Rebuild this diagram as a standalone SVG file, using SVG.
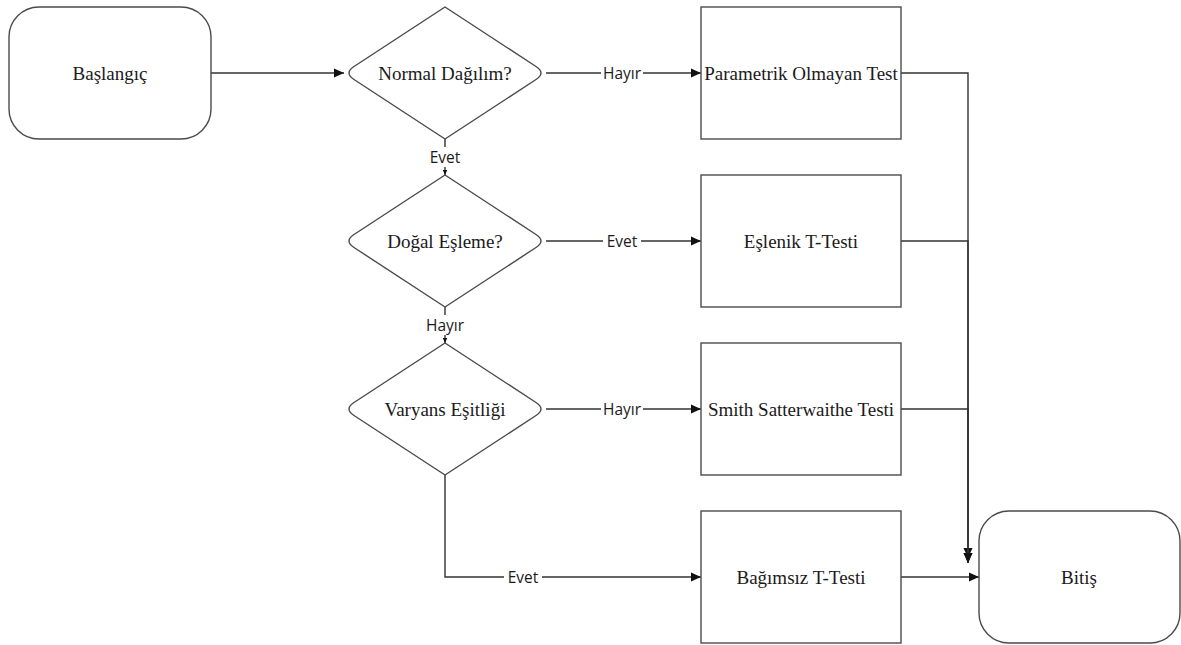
<svg xmlns="http://www.w3.org/2000/svg" width="1181" height="645" viewBox="0 0 1181 645">
<style>
.node{fill:#fff;stroke:#4a4a4a;stroke-width:1.4}
.nt{font-family:"Liberation Serif","Times New Roman",serif;font-size:19px;fill:#1a1a1a;text-anchor:middle}
.ln{fill:none;stroke:#333;stroke-width:1.4}
.lb{font-family:"Open Sans","Noto Sans",sans-serif;font-size:15.5px;fill:#1a1a1a;text-anchor:middle}
.lbg{fill:#fff;stroke:none}
</style>
<defs>
<marker id="ah" viewBox="0 0 10 10" refX="10" refY="5" markerWidth="10" markerHeight="10" markerUnits="userSpaceOnUse" orient="auto">
<path d="M0,0.5 L10,5 L0,9.5 Z" fill="#111"/>
</marker>
<marker id="as" viewBox="0 0 10 10" refX="10" refY="5" markerWidth="5" markerHeight="5" markerUnits="userSpaceOnUse" orient="auto">
<path d="M0,0.5 L10,5 L0,9.5 Z" fill="#111"/>
</marker>
</defs>
<rect width="1181" height="645" fill="#fff"/>
<g id="connectors">
<path class="ln" d="M211,73 L344,73" marker-end="url(#ah)"/>
<path class="ln" d="M546,73 L701,73" marker-end="url(#ah)"/>
<path class="ln" d="M445,139 L445,175" marker-end="url(#as)"/>
<path class="ln" d="M546,241 L701,241" marker-end="url(#ah)"/>
<path class="ln" d="M445,307 L445,343" marker-end="url(#as)"/>
<path class="ln" d="M546,409 L701,409" marker-end="url(#ah)"/>
<path class="ln" d="M445,475 L445,577 L701,577" marker-end="url(#ah)"/>
<path class="ln" d="M901,73 L968,73 L968,558" marker-end="url(#ah)"/>
<path class="ln" d="M901,241 L968,241 L968,563" marker-end="url(#ah)"/>
<path class="ln" d="M901,409 L968,409 L968,563" marker-end="url(#ah)"/>
<path class="ln" d="M901,577 L979,577" marker-end="url(#ah)"/>
<rect class="lbg" x="601" y="63" width="42" height="20"/>
<text class="lb" x="622" y="78.5">Hayır</text>
<rect class="lbg" x="427" y="147" width="36" height="20"/>
<text class="lb" x="445" y="162.5">Evet</text>
<rect class="lbg" x="603" y="231" width="38" height="20"/>
<text class="lb" x="622" y="246.5">Evet</text>
<rect class="lbg" x="424" y="315" width="42" height="20"/>
<text class="lb" x="445" y="330.5">Hayır</text>
<rect class="lbg" x="601" y="399" width="42" height="20"/>
<text class="lb" x="622" y="414.5">Hayır</text>
<rect class="lbg" x="504" y="567" width="38" height="20"/>
<text class="lb" x="523" y="582.5">Evet</text>
</g>
<g id="baslangic">
<rect class="node" x="9" y="7" width="202" height="132" rx="30" ry="30"/>
<text class="nt" x="110" y="79.5">Başlangıç</text>
</g>
<g id="normal">
<path class="node" d="M445,7 L536,66.5 Q546,73 536,79.5 L445,139 L354,79.5 Q344,73 354,66.5 Z"/>
<text class="nt" x="445" y="79.5">Normal Dağılım?</text>
</g>
<g id="parametrik">
<rect class="node" x="701" y="7" width="200" height="132"/>
<text class="nt" x="801" y="79.5">Parametrik Olmayan Test</text>
</g>
<g id="dogal">
<path class="node" d="M445,175 L536,234.5 Q546,241 536,247.5 L445,307 L354,247.5 Q344,241 354,234.5 Z"/>
<text class="nt" x="445" y="247.5">Doğal Eşleme?</text>
</g>
<g id="eslenik">
<rect class="node" x="701" y="175" width="200" height="132"/>
<text class="nt" x="801" y="247.5">Eşlenik T-Testi</text>
</g>
<g id="varyans">
<path class="node" d="M445,343 L536,402.5 Q546,409 536,415.5 L445,475 L354,415.5 Q344,409 354,402.5 Z"/>
<text class="nt" x="445" y="415.5">Varyans Eşitliği</text>
</g>
<g id="smith">
<rect class="node" x="701" y="343" width="200" height="132"/>
<text class="nt" x="801" y="415.5">Smith Satterwaithe Testi</text>
</g>
<g id="bagimsiz">
<rect class="node" x="701" y="511" width="200" height="132"/>
<text class="nt" x="801" y="583.5">Bağımsız T-Testi</text>
</g>
<g id="bitis">
<rect class="node" x="979" y="511" width="201" height="132" rx="30" ry="30"/>
<text class="nt" x="1079" y="583.5">Bitiş</text>
</g>
</svg>
